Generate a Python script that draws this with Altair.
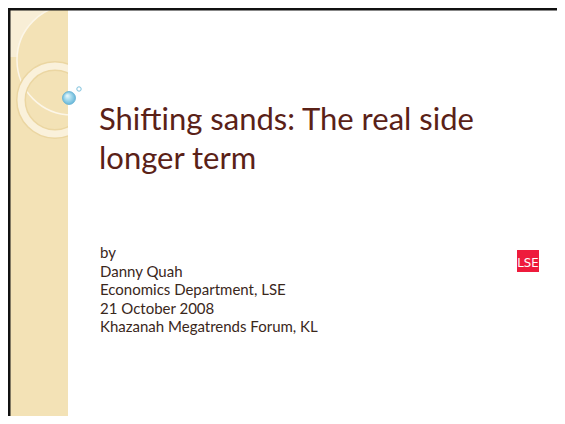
import altair as alt
import pandas as pd

# ---- content ----
title_lines = ["Shifting sands: The real side", "longer term"]
body_lines = ["by", "Danny Quah", "Economics Department, LSE",
              "21 October 2008", "Khazanah Megatrends Forum, KL"]
logo_text = ["LSE"]

# ---- layout (page pixel coordinates) ----
OX, OY = 8, 8
W, H = 549, 408
TEXT_X = 99
TITLE_Y0, TITLE_DY = 130, 39
BODY_Y0, BODY_DY = 258, 18.6

xs = alt.Scale(domain=[OX, OX + W], nice=False, zero=False)
ys = alt.Scale(domain=[OY, OY + H], nice=False, zero=False, reverse=True)


def enc_xy(extra=None):
    d = dict(x=alt.X("x:Q", scale=xs, axis=None),
             y=alt.Y("y:Q", scale=ys, axis=None))
    if extra:
        d.update(extra)
    return d


def rect_layer(x, x2, y, y2, color):
    df = pd.DataFrame({"x": [x], "x2": [x2], "y": [y], "y2": [y2]})
    return alt.Chart(df).mark_rect(color=color, strokeWidth=0).encode(
        x=alt.X("x:Q", scale=xs, axis=None), x2="x2:Q",
        y=alt.Y("y:Q", scale=ys, axis=None), y2="y2:Q")


def circle_layer(cx, cy, r, **kw):
    df = pd.DataFrame({"x": [cx], "y": [cy]})
    return alt.Chart(df).mark_point(shape="circle", size=(2 * r) ** 2,
                                    opacity=1, **kw).encode(**enc_xy())


STRIP = "#F3E2B6"

strip = rect_layer(8, 68, 8, 416, STRIP)
pale = rect_layer(10, 62, 10, 57, "#F8EED6")
big_circle = circle_layer(72, 60, 55, filled=True, fill=STRIP,
                          stroke="#FCF6E8", strokeWidth=1.5)
ring_outline = circle_layer(55, 100, 34, filled=False, stroke="#EBD6A2",
                            strokeWidth=10)
ring = circle_layer(55, 100, 34, filled=False, stroke="#FAF1DB",
                    strokeWidth=7)
cover = rect_layer(68, 557, 10, 416, "#FFFFFF")

border_top = rect_layer(8, 557, 8, 10.5, "#111111")
border_left = rect_layer(8, 10.5, 8, 416, "#111111")

bubble_fill = {
    "gradient": "radial",
    "x1": 0.35, "y1": 0.3, "r1": 0,
    "x2": 0.5, "y2": 0.5, "r2": 0.55,
    "stops": [
        {"offset": 0, "color": "#F2FBFE"},
        {"offset": 0.45, "color": "#A9DCEE"},
        {"offset": 1, "color": "#5FB2D6"},
    ],
}
bubble = circle_layer(69, 98, 6.5, filled=True, fill=bubble_fill,
                      stroke="#62AFD2", strokeWidth=0.8)
small_bubble = circle_layer(79, 89, 2.2, filled=True, fill="#FFFFFF",
                            stroke="#7DC1DD", strokeWidth=1)

title_df = pd.DataFrame({"t": title_lines,
                         "x": TEXT_X,
                         "y": [TITLE_Y0 + i * TITLE_DY for i in range(len(title_lines))]})
title = alt.Chart(title_df).mark_text(
    align="left", baseline="alphabetic", font="Lato", fontSize=31,
    color="#5A2117").encode(text="t:N", **enc_xy())

body_df = pd.DataFrame({"t": body_lines,
                        "x": TEXT_X + 1,
                        "y": [BODY_Y0 + i * BODY_DY for i in range(len(body_lines))]})
body = alt.Chart(body_df).mark_text(
    align="left", baseline="alphabetic", font="Lato", fontSize=15,
    color="#3A271B").encode(text="t:N", **enc_xy())

logo_box = rect_layer(517, 539, 250, 272, "#EE1B3C")
logo_df = pd.DataFrame({"t": logo_text, "x": [528], "y": [266.5]})
logo = alt.Chart(logo_df).mark_text(
    align="center", baseline="alphabetic",
    font="DejaVu Sans Condensed", fontSize=13,
    color="#FFFFFF").encode(text="t:N", **enc_xy())

chart = alt.layer(
    strip, pale, big_circle, ring_outline, ring, cover,
    border_top, border_left, bubble, small_bubble,
    title, body, logo_box, logo,
).properties(
    width=W, height=H, padding=0, autosize=alt.AutoSizeParams(type="none"),
    background="#FFFFFF",
).configure_view(stroke=None)

chart.save("out.html", embed_options={"renderer": "svg", "actions": False})
